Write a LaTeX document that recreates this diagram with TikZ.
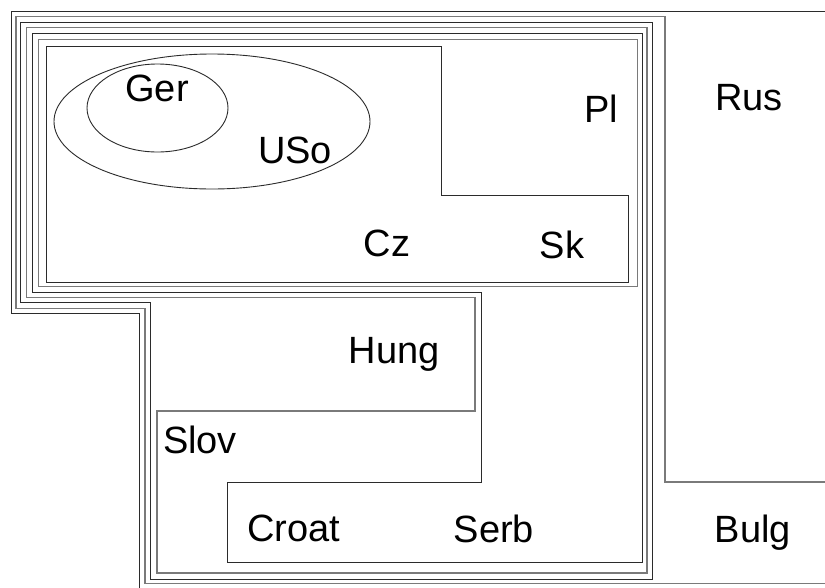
\documentclass[tikz,border=0pt]{standalone}
\usepackage{fontspec}
\setmainfont{Liberation Sans}
\definecolor{inkdark}{HTML}{2B2B2B}
\definecolor{inkgray}{HTML}{7A7A7A}
\tikzset{
  darkline/.style={draw=inkdark, line width=1pt, line join=miter},
  grayline/.style={draw=inkgray, line width=1.3pt, line join=miter},
  ovalline/.style={draw=inkdark, line width=0.9pt},
  lang/.style={anchor=base, inner sep=0pt, font=\fontsize{38}{40}\selectfont, text=black}
}
\begin{document}
\begin{tikzpicture}[x=1pt,y=-1pt]
\useasboundingbox (0,0) rectangle (825,587);
\clip (0,0) rectangle (825,587);
\fill[white] (0,0) rectangle (825,587);

% Rus (outermost, runs off the page)
\draw[darkline] (840,11.7) -- (11,11.7) -- (11,313.3) -- (139,313.3) -- (139,600);
% Bulg
\draw[grayline] (840,482) -- (665,482) -- (665,16.7) -- (16,16.7) -- (16,308.3)
  -- (145,308.3) -- (145,583.3) -- (840,583.3);
% Hung
\draw[darkline] (20.7,22.7) -- (652,22.7) -- (652,579.3) -- (150.5,579.3)
  -- (150.5,302.7) -- (20.7,302.7) -- cycle;
% Slov
\draw[grayline] (26.7,27.7) -- (647,27.7) -- (647,573) -- (157,573) -- (157,411)
  -- (475,411) -- (475,297.7) -- (26.7,297.7) -- cycle;
% Croat / Serb
\draw[darkline] (32.7,33.3) -- (642,33.3) -- (642,562.7) -- (227,562.7) -- (227,482)
  -- (481,482) -- (481,292.5) -- (32.7,292.5) -- cycle;
% Pl
\draw[grayline] (38.3,39.3) rectangle (637.7,286.7);
% Cz / Sk
\draw[darkline] (46.7,46) -- (441,46) -- (441,195) -- (628,195) -- (628,282)
  -- (46.7,282) -- cycle;

% USo and Ger
\draw[ovalline] (212,121.5) ellipse [x radius=158, y radius=67.5];
\draw[ovalline] (157.5,108) ellipse [x radius=70.5, y radius=44];

% labels
\node[lang] (ger)   at (157,101)  {Ger};
\node[lang] (uso)   at (295,163)  {USo};
\node[lang] (pl)    at (601,122)  {Pl};
\node[lang] (rus)   at (749,110)  {Rus};
\node[lang] (cz)    at (387,256)  {Cz};
\node[lang] (sk)    at (562,258)  {Sk};
\node[lang] (hung)  at (394,363)  {Hung};
\node[lang] (slov)  at (200,453)  {Slov};
\node[lang] (croat) at (294,541)  {Croat};
\node[lang] (serb)  at (494,542)  {Serb};
\node[lang] (bulg)  at (753,542)  {Bulg};
\end{tikzpicture}
\end{document}
